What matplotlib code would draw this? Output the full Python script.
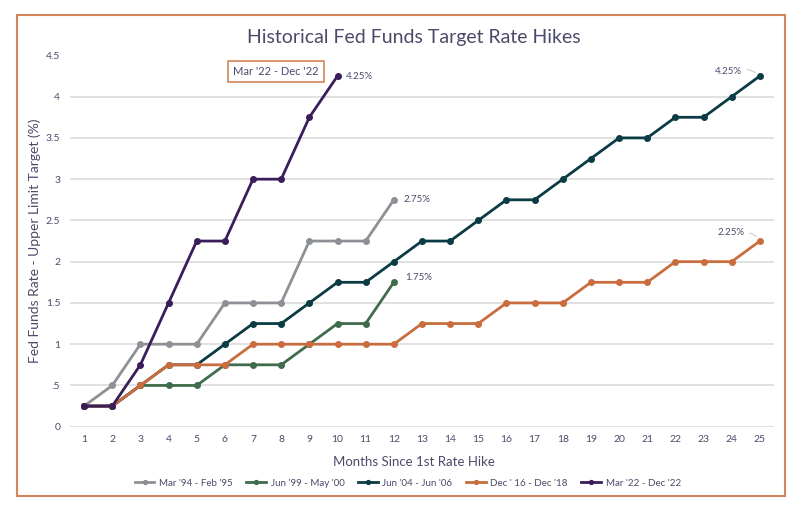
import numpy as np
import matplotlib.pyplot as plt
from matplotlib.patches import Rectangle

plt.rcParams['font.family'] = ['Lato', 'DejaVu Sans']

# ==========================
# Data
# ==========================

months_94 = list(range(1, 13))
rates_94 = [0.25, 0.5, 1.0, 1.0, 1.0, 1.5, 1.5, 1.5, 2.25, 2.25, 2.25, 2.75]

months_99 = list(range(1, 13))
rates_99 = [0.25, 0.25, 0.5, 0.5, 0.5, 0.75, 0.75, 0.75, 1.0, 1.25, 1.25, 1.75]

months_04 = list(range(1, 26))
rates_04 = [0.25, 0.25, 0.5, 0.75, 0.75, 1.0, 1.25, 1.25, 1.5, 1.75, 1.75, 2.0,
            2.25, 2.25, 2.5, 2.75, 2.75, 3.0, 3.25, 3.5, 3.5, 3.75, 3.75, 4.0, 4.25]

months_16 = list(range(1, 26))
rates_16 = [0.25, 0.25, 0.5, 0.75, 0.75, 0.75, 1.0, 1.0, 1.0, 1.0, 1.0, 1.0,
            1.25, 1.25, 1.25, 1.5, 1.5, 1.5, 1.75, 1.75, 1.75, 2.0, 2.0, 2.0, 2.25]

months_22 = list(range(1, 11))
rates_22 = [0.25, 0.25, 0.75, 1.5, 2.25, 2.25, 3.0, 3.0, 3.75, 4.25]

series_labels = ["Mar '94 - Feb '95", "Jun '99 - May '00", "Jun '04 - Jun '06",
                 "Dec ' 16 - Dec '18", "Mar '22 - Dec '22"]

y_ticks = [0, 0.5, 1, 1.5, 2, 2.5, 3, 3.5, 4, 4.5]
y_tick_labels = ["0", ".5", "1", "1.5", "2", "2.5", "3", "3.5", "4", "4.5"]

# ==========================
# Style
# ==========================

text_color = "#4b4a6b"
border_color = "#d4855a"
grid_color = "#dcdcdc"

colors = ["#8d9196", "#3f6c4c", "#0b3b44", "#c96d3f", "#3a1d5a"]

# ==========================
# Figure
# ==========================

fig = plt.figure(figsize=(8.02, 5.12), dpi=100)

ax = fig.add_axes([0.0873, 0.1666, 0.8777, 0.7252])

all_months = [months_94, months_99, months_04, months_16, months_22]
all_rates = [rates_94, rates_99, rates_04, rates_16, rates_22]

for m, r, c, lab in zip(all_months, all_rates, colors, series_labels):
    ax.plot(
        m,
        r,
        color=c,
        linewidth=2,
        marker='o',
        markersize=4,
        label=lab
    )

ax.set_xlim(0.5, 25.5)
ax.set_ylim(0, 4.5)

ax.set_xticks(range(1, 26))
ax.set_yticks(y_ticks)
ax.set_yticklabels(y_tick_labels)

ax.tick_params(
    axis='both',
    length=0,
    labelsize=7.5,
    colors=text_color
)
ax.tick_params(axis='y', pad=7)
ax.tick_params(axis='x', pad=6)

ax.yaxis.grid(True, color=grid_color, linewidth=1.2)
ax.get_ygridlines()[-1].set_visible(False)
ax.set_axisbelow(True)

for s in ax.spines.values():
    s.set_visible(False)

fig.text(
    35 / 802,
    1 - 241 / 512,
    "Fed Funds Rate - Upper Limit Target (%)",
    fontsize=10,
    color=text_color,
    rotation=90,
    ha='center',
    va='center'
)

# ==========================
# Annotations
# ==========================

ax.text(10.3, 4.25, "4.25%", fontsize=7, color=text_color, va='center')
ax.text(12.35, 2.75, "2.75%", fontsize=7, color=text_color, va='center')
ax.text(12.4, 1.81, "1.75%", fontsize=7, color=text_color, va='center')

ax.annotate(
    "4.25%",
    xy=(24.93, 4.27),
    xytext=(24.35, 4.3),
    fontsize=7,
    color=text_color,
    ha='right',
    va='center',
    arrowprops=dict(arrowstyle='-', color='#cccccc', lw=0.8,
                    connectionstyle="arc3,rad=-0.3")
)

ax.annotate(
    "2.25%",
    xy=(24.95, 2.28),
    xytext=(24.45, 2.35),
    fontsize=7,
    color=text_color,
    ha='right',
    va='center',
    arrowprops=dict(arrowstyle='-', color='#cccccc', lw=0.8,
                    connectionstyle="arc3,rad=-0.3")
)

ax.text(
    7.82,
    4.31,
    "Mar '22 - Dec '22",
    fontsize=8,
    color=text_color,
    ha='center',
    va='center',
    bbox=dict(boxstyle='square,pad=0.45', facecolor='white',
              edgecolor=border_color, linewidth=1.2)
)

# ==========================
# Title / labels / legend
# ==========================

fig.text(
    414 / 802,
    1 - 38 / 512,
    "Historical Fed Funds Target Rate Hikes",
    fontsize=14,
    color=text_color,
    ha='center',
    va='center'
)

fig.text(
    414 / 802,
    1 - 462 / 512,
    "Months Since 1st Rate Hike",
    fontsize=9.5,
    color=text_color,
    ha='center',
    va='center'
)

fig.legend(
    loc='center',
    bbox_to_anchor=(408 / 802, 1 - 483 / 512),
    ncol=5,
    frameon=False,
    fontsize=7,
    handlelength=2.0,
    columnspacing=1.4,
    handletextpad=0.5,
    markerscale=0.7,
    labelcolor=text_color
)

# ==========================
# Border
# ==========================

fig.patches.append(
    Rectangle(
        (17 / 802, 1 - 496 / 512),
        768 / 802,
        481 / 512,
        transform=fig.transFigure,
        fill=False,
        edgecolor=border_color,
        linewidth=1.5
    )
)

plt.savefig("out.png", dpi=100)
plt.close()
